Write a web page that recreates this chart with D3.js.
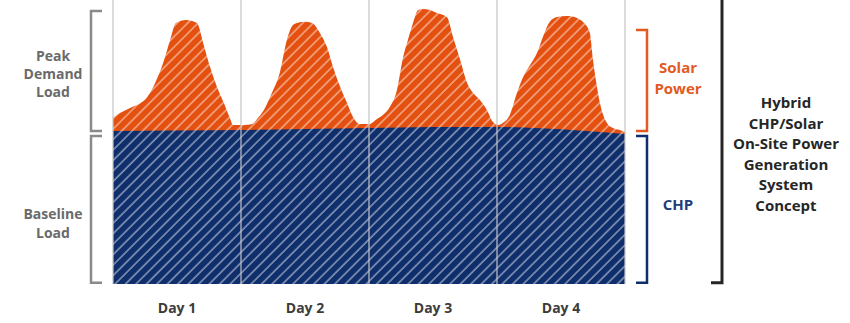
<!DOCTYPE html>
<html>
<head>
<meta charset="utf-8">
<script src="https://cdn.jsdelivr.net/npm/d3@7"></script>
<style>
  html, body { margin: 0; padding: 0; background: #fff; }
  svg { display: block; font-family: "Open Sans", "Noto Sans", sans-serif; font-weight: 700; }
</style>
</head>
<body>
<svg id="chart" width="850" height="323"></svg>
<script>
// Hour of the 4-day period (0–96) and total site load (% of scale)
const loadHours = [0, 1.3, 3.2, 6.4, 7.9, 9.4, 10.7, 11.8, 13.7, 15.75, 16.9, 18.2, 19.5, 20.8, 21.9, 22.5, 24,
  24.75, 26.1, 27.2, 28.5, 29.8, 31.3, 32.6, 33.75, 34.5, 36, 37.3, 38.8, 40.1, 41.25, 42.6, 43.9, 45, 46.3, 48,
  49.5, 50.6, 51.9, 53.25, 54.4, 55.3, 56.25, 57.2, 58.1, 59.4, 60.75, 62.6, 63.75, 65.1, 66.4, 67.5, 68.8, 70.1, 71.25, 72.2,
  73.1, 74.4, 75.75, 76.9, 78.2, 79.5, 80.6, 81.9, 83.25, 85.1, 87, 88.1, 89.4, 90, 90.75, 91.3, 92.6, 93.75, 95, 96];
const totalLoad = [58.5, 60.2, 62.0, 65.8, 70.8, 77.8, 85.9, 91.9, 93.0, 91.9, 84.9, 76.4, 69.4, 63.7, 58.5, 56.0, 56.0,
  56.0, 56.3, 58.5, 62.0, 67.3, 74.6, 85.9, 91.2, 91.9, 92.3, 91.9, 88.4, 83.5, 76.4, 69.4, 63.7, 58.8, 56.3, 56.3,
  58.1, 59.5, 62.3, 68.3, 79.9, 85.9, 91.9, 96.5, 96.8, 96.5, 95.4, 94.0, 87.0, 78.9, 70.8, 67.3, 64.8, 61.3, 57.0, 56.0,
  56.7, 59.5, 67.3, 72.9, 77.1, 81.3, 87.0, 92.3, 94.0, 94.4, 93.7, 92.3, 88.4, 78.9, 69.4, 63.7, 56.7, 54.9, 54.2, 53.5];

// CHP baseline output over the same period
const chpHours = [0, 24, 36, 48, 60, 72, 80, 88, 96];
const chpLoad = [53.9, 54.2, 54.6, 54.9, 55.3, 55.3, 54.8, 54.0, 52.8];

// Day labels and their boundaries (hours)
const dayLabels = ["Day 1", "Day 2", "Day 3", "Day 4"];
const dayBounds = [0, 24, 48, 72, 96];

// Text blocks
const peakText = ["Peak", "Demand", "Load"];
const baseText = ["Baseline", "Load"];
const solarText = ["Solar", "Power"];
const chpText = ["CHP"];
const systemText = ["Hybrid", "CHP/Solar", "On-Site Power", "Generation", "System", "Concept"];

const COLORS = {
  solar: "#e4500f",
  chp: "#0f2e6c",
  grid: "#c4c4c4",
  grayBracket: "#8a8a8a",
  grayText: "#6a6a6a",
  dayText: "#3c3c3c",
  solarText: "#e35a1e",
  chpText: "#1f3d7a",
  dark: "#262626"
};

const svg = d3.select("#chart");
const x = d3.scaleLinear().domain([0, 96]).range([113, 625]);
const y = d3.scaleLinear().domain([0, 100]).range([284, 0]);

// Diagonal hatching patterns
const defs = svg.append("defs");
function hatch(id, color, opacity) {
  const s = 7.4;
  const p = defs.append("pattern")
    .attr("id", id)
    .attr("patternUnits", "userSpaceOnUse")
    .attr("width", s).attr("height", s)
    .attr("patternTransform", "rotate(45)");
  p.append("rect").attr("width", s).attr("height", s).attr("fill", color);
  p.append("line")
    .attr("x1", 1).attr("y1", 0).attr("x2", 1).attr("y2", s)
    .attr("stroke", "#fff").attr("stroke-opacity", opacity).attr("stroke-width", 1.2);
}
hatch("hatch-solar", COLORS.solar, 0.65);
hatch("hatch-chp", COLORS.chp, 0.65);

// Total load (solar on top of CHP)
const totalArea = d3.area()
  .x((d, i) => x(loadHours[i]))
  .y0(y(0))
  .y1(d => y(d))
  .curve(d3.curveMonotoneX);
svg.append("path").datum(totalLoad)
  .attr("d", totalArea)
  .attr("fill", "url(#hatch-solar)");

// CHP baseline band
const chpArea = d3.area()
  .x((d, i) => x(chpHours[i]))
  .y0(y(0))
  .y1(d => y(d))
  .curve(d3.curveMonotoneX);
svg.append("path").datum(chpLoad)
  .attr("d", chpArea)
  .attr("fill", "url(#hatch-chp)");

// Day separators
svg.append("g").selectAll("line").data(dayBounds).join("line")
  .attr("x1", d => x(d)).attr("x2", d => x(d))
  .attr("y1", 0).attr("y2", y(0))
  .attr("stroke", COLORS.grid).attr("stroke-width", 1.2);

// Day labels
svg.append("g").selectAll("text").data(dayLabels).join("text")
  .attr("x", (d, i) => x((dayBounds[i] + dayBounds[i + 1]) / 2))
  .attr("y", 307)
  .attr("text-anchor", "middle").attr("dominant-baseline", "central")
  .attr("font-size", 14).attr("fill", COLORS.dayText)
  .text(d => d);

// Bracket: a positive tick length opens to the right, negative to the left
function bracket(xv, y1, y2, len, color, width) {
  const p = d3.path();
  p.moveTo(xv + len, y1);
  p.lineTo(xv, y1);
  p.lineTo(xv, y2);
  p.lineTo(xv + len, y2);
  svg.append("path").attr("d", p.toString())
    .attr("fill", "none").attr("stroke", color).attr("stroke-width", width)
    .attr("stroke-linejoin", "miter");
}

// Left side: peak demand and baseline load brackets
bracket(91, y(96.1), y(53.9), 11, COLORS.grayBracket, 2.5);
bracket(91, y(52.1), y(0.4), 11, COLORS.grayBracket, 2.5);
// Right side: solar and CHP brackets
bracket(647, y(89.4), y(53.9), -11, COLORS.solarText, 2.5);
bracket(647, y(52.1), y(0.4), -11, COLORS.chp, 2.5);
// System bracket
bracket(722, -4, y(0.4), -11, COLORS.dark, 3);

function textBlock(lines, cx, cy0, step, color, size) {
  svg.append("g").selectAll("text").data(lines).join("text")
    .attr("x", cx)
    .attr("y", (d, i) => cy0 + i * step)
    .attr("text-anchor", "middle").attr("dominant-baseline", "central")
    .attr("font-size", size).attr("fill", color)
    .text(d => d);
}

textBlock(peakText, 53, 55, 18.2, COLORS.grayText, 14);
textBlock(baseText, 53, 213, 19, COLORS.grayText, 14);
textBlock(solarText, 678, 67, 20.5, COLORS.solarText, 15);
textBlock(chpText, 678, 204, 20, COLORS.chpText, 15);
textBlock(systemText, 786, 102, 20.6, COLORS.dark, 15);
</script>
</body>
</html>
